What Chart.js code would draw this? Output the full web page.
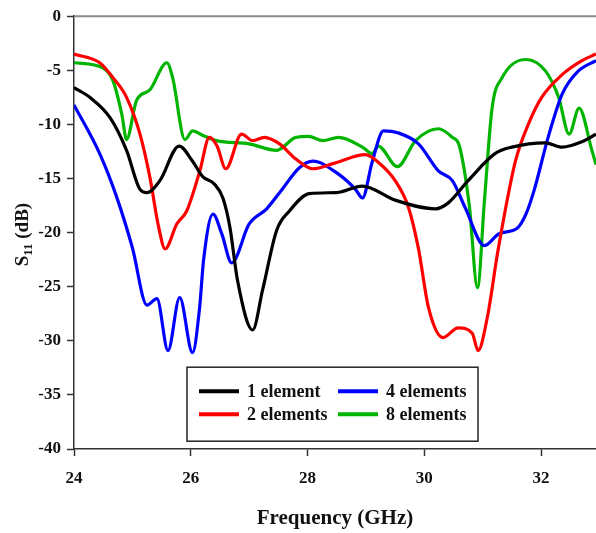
<!DOCTYPE html>
<html>
<head>
<meta charset="utf-8">
<script src="https://cdn.jsdelivr.net/npm/chart.js@4"></script>
<style>
  html, body { margin: 0; padding: 0; background: #fff; }
  #wrap { width: 596px; height: 533px; }
</style>
</head>
<body>
<div id="wrap"><canvas id="s11Chart" width="596" height="533"></canvas></div>
<script>
// frequency ticks (GHz) and S11 ticks (dB)
const xTicks = [24, 26, 28, 30, 32];
const yTicks = [0, -5, -10, -15, -20, -25, -30, -35, -40];

const labels = ['1 element', '2 elements', '4 elements', '8 elements'];
const colors = ['#000000', '#ff0000', '#0000ff', '#00b400'];

// 1 element
const freq1 = [24.0, 24.27, 24.62, 24.9, 25.13, 25.25, 25.47, 25.8, 26.03, 26.2, 26.4, 26.55, 26.67, 26.8, 27.06, 27.23, 27.47, 27.69, 28.03, 28.5, 28.94, 29.5, 30.19, 30.4, 30.75, 31.21, 31.5, 32.07, 32.36, 32.7, 32.94];
const s11_1 = [-6.6, -7.5, -9.4, -12.4, -16.0, -16.3, -15.2, -12.0, -13.4, -14.8, -15.5, -16.8, -19.5, -24.4, -29.0, -25.3, -19.8, -18.0, -16.4, -16.3, -15.7, -17.0, -17.8, -17.3, -15.2, -12.7, -12.1, -11.7, -12.1, -11.6, -10.9];

// 2 elements
const freq2 = [24.0, 24.44, 24.67, 24.9, 25.13, 25.3, 25.45, 25.56, 25.76, 25.93, 26.15, 26.32, 26.45, 26.6, 26.87, 27.06, 27.26, 27.52, 27.8, 28.09, 28.45, 28.99, 29.21, 29.5, 29.73, 29.9, 30.07, 30.32, 30.58, 30.82, 30.92, 31.08, 31.26, 31.56, 31.78, 32.01, 32.36, 32.7, 32.94];
const s11_2 = [-3.5, -4.3, -5.7, -7.5, -10.9, -14.9, -19.5, -21.5, -19.2, -18.0, -14.4, -11.2, -12.0, -14.1, -10.9, -11.5, -11.2, -11.8, -13.2, -14.1, -13.6, -12.8, -13.5, -15.2, -17.7, -21.5, -26.9, -29.7, -28.8, -29.3, -30.9, -27.8, -21.7, -13.4, -10.0, -7.5, -5.4, -4.1, -3.5];

// 4 elements
const freq4 = [24.0, 24.44, 24.73, 25.0, 25.25, 25.42, 25.61, 25.81, 26.03, 26.15, 26.22, 26.38, 26.53, 26.7, 27.0, 27.3, 27.55, 27.86, 28.09, 28.53, 28.82, 28.94, 29.11, 29.3, 29.56, 29.9, 30.24, 30.48, 30.7, 31.03, 31.28, 31.59, 31.74, 31.88, 32.12, 32.36, 32.63, 32.94];
const s11_4 = [-8.2, -12.7, -16.7, -21.4, -26.7, -26.1, -30.9, -26.0, -31.1, -27.0, -22.5, -18.3, -20.1, -22.8, -19.2, -17.8, -16.1, -14.0, -13.4, -14.6, -16.0, -16.8, -13.4, -10.6, -10.8, -11.8, -14.3, -15.2, -17.7, -21.2, -20.1, -19.6, -18.3, -16.1, -11.2, -7.2, -5.1, -4.1];

// 8 elements
const freq8 = [24.0, 24.5, 24.67, 24.82, 24.9, 25.07, 25.3, 25.59, 25.69, 25.9, 26.03, 26.2, 26.44, 27.0, 27.47, 27.8, 28.02, 28.26, 28.53, 28.94, 29.11, 29.21, 29.54, 29.85, 30.24, 30.48, 30.6, 30.77, 30.91, 31.03, 31.16, 31.33, 31.74, 32.08, 32.3, 32.48, 32.65, 32.87, 32.94];
const s11_8 = [-4.3, -4.8, -6.0, -9.1, -11.4, -7.8, -6.8, -4.3, -5.7, -11.4, -10.6, -11.0, -11.5, -11.8, -12.4, -11.2, -11.1, -11.5, -11.2, -12.1, -12.7, -12.0, -13.9, -11.5, -10.4, -11.2, -12.0, -17.5, -25.1, -17.0, -8.5, -5.7, -4.0, -5.1, -7.5, -10.9, -8.5, -12.4, -13.7];

const freqs = [freq1, freq2, freq4, freq8];
const values = [s11_1, s11_2, s11_4, s11_8];

const serif = "'Liberation Serif', 'Times New Roman', serif";

const datasets = labels.map((lab, i) => ({
    label: lab,
    data: freqs[i].map((f, j) => ({ x: f, y: values[i][j] })),
    borderColor: colors[i],
    borderWidth: 3.2,
    showLine: true,
    pointRadius: 0,
    cubicInterpolationMode: 'monotone',
    fill: false
}));

// titles, top frame line and the boxed legend inside the plot
const decorations = {
    id: 'decorations',
    afterDraw(chart) {
        const ctx = chart.ctx;
        const a = chart.chartArea;
        ctx.save();

        // top frame
        ctx.strokeStyle = '#8a8a8a';
        ctx.lineWidth = 2;
        ctx.beginPath();
        ctx.moveTo(a.left, a.top);
        ctx.lineTo(a.right, a.top);
        ctx.stroke();

        // x title
        ctx.fillStyle = '#111';
        ctx.font = 'bold 21px ' + serif;
        ctx.textAlign = 'center';
        ctx.textBaseline = 'middle';
        ctx.fillText('Frequency (GHz)', (a.left + a.right) / 2, 519);

        // y title with subscript
        ctx.save();
        ctx.translate(22, (a.top + a.bottom) / 2 + 2);
        ctx.rotate(-Math.PI / 2);
        ctx.textBaseline = 'alphabetic';
        ctx.textAlign = 'left';
        const big = 'bold 19px ' + serif, small = 'bold 13px ' + serif;
        ctx.font = big; const wS = ctx.measureText('S').width;
        ctx.font = small; const w11 = ctx.measureText('11').width;
        ctx.font = big; const wD = ctx.measureText(' (dB)').width;
        let x0 = -(wS + w11 + wD) / 2;
        ctx.font = big; ctx.fillText('S', x0, 6);
        ctx.font = small; ctx.fillText('11', x0 + wS, 10);
        ctx.font = big; ctx.fillText(' (dB)', x0 + wS + w11, 6);
        ctx.restore();

        // legend box
        const bx = a.left + 113, by = a.top + 351, bw = 291, bh = 74;
        ctx.strokeStyle = '#222';
        ctx.lineWidth = 1.5;
        ctx.strokeRect(bx, by, bw, bh);
        ctx.font = 'bold 18px ' + serif;
        ctx.textAlign = 'left';
        ctx.textBaseline = 'middle';
        chart.data.datasets.forEach((ds, i) => {
            const col = i < 2 ? 0 : 1;
            const row = i % 2;
            const lx = bx + 12 + col * 139;
            const ly = by + 24 + row * 23;
            ctx.strokeStyle = ds.borderColor;
            ctx.lineWidth = 4;
            ctx.beginPath();
            ctx.moveTo(lx, ly);
            ctx.lineTo(lx + 40, ly);
            ctx.stroke();
            ctx.fillStyle = '#111';
            ctx.fillText(ds.label, lx + 48, ly + 1);
        });
        ctx.restore();
    }
};

new Chart(document.getElementById('s11Chart').getContext('2d'), {
    type: 'scatter',
    data: { datasets: datasets },
    options: {
        responsive: false,
        animation: false,
        layout: { padding: { top: 15, right: 0, left: 0, bottom: 0 } },
        scales: {
            x: {
                type: 'linear',
                min: 24,
                max: 32.94,
                afterBuildTicks: s => { s.ticks = xTicks.map(v => ({ value: v })); },
                afterFit: s => { s.height = 84; },
                grid: { drawOnChartArea: false, tickLength: 7, tickColor: '#333', tickWidth: 1.5 },
                border: { color: '#333', width: 1.5 },
                ticks: { color: '#111', font: { family: serif, size: 17, weight: 'bold' }, padding: 12, maxRotation: 0 }
            },
            y: {
                min: -40,
                max: 0,
                afterBuildTicks: s => { s.ticks = yTicks.map(v => ({ value: v })); },
                afterFit: s => { s.width = 74; },
                grid: { drawOnChartArea: false, tickLength: 7, tickColor: '#333', tickWidth: 1.5 },
                border: { color: '#333', width: 1.5 },
                ticks: { color: '#111', font: { family: serif, size: 17, weight: 'bold' }, padding: 6 }
            }
        },
        plugins: {
            legend: { display: false },
            tooltip: { enabled: false }
        }
    },
    plugins: [decorations]
});
</script>
</body>
</html>
